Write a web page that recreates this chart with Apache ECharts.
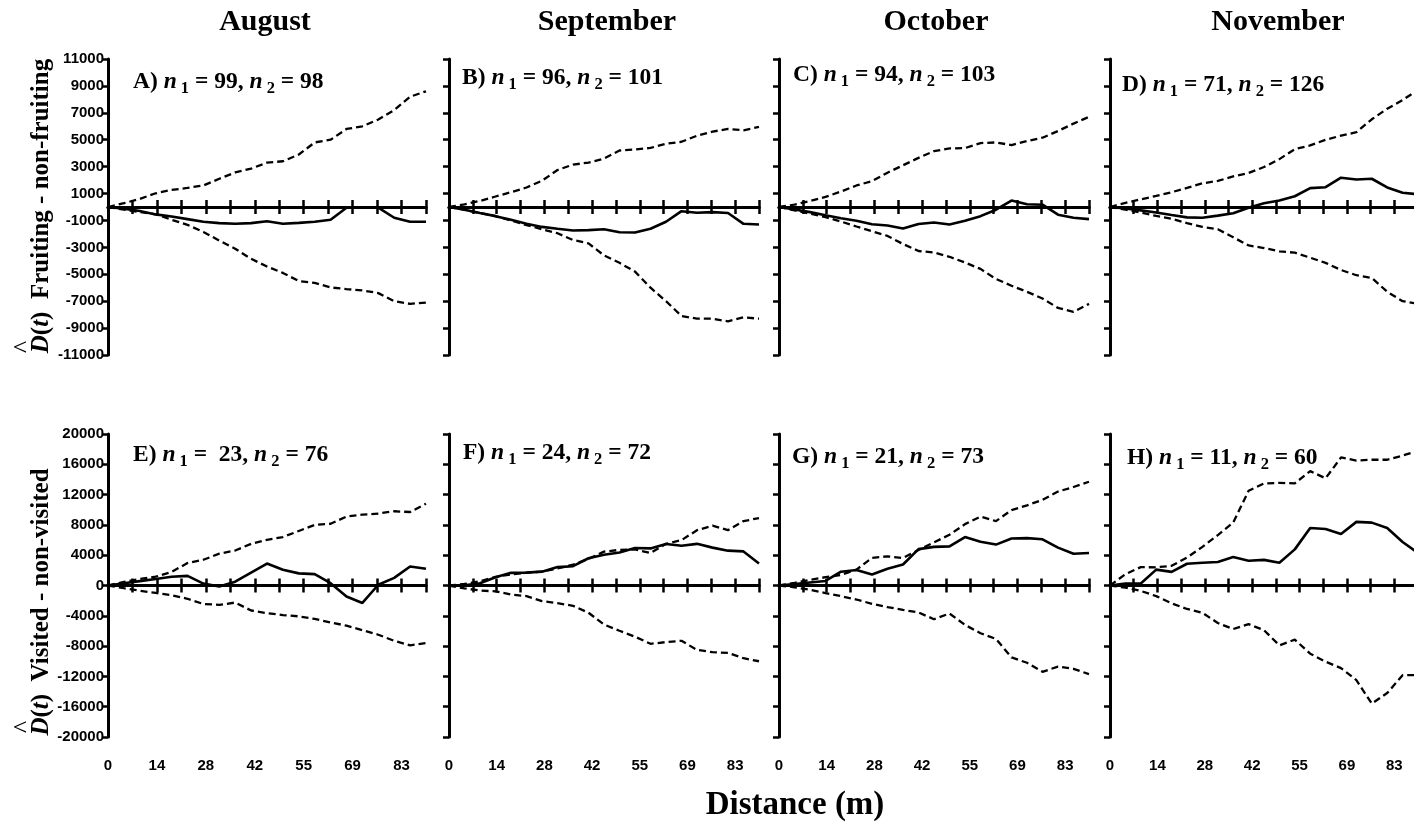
<!DOCTYPE html>
<html><head><meta charset="utf-8">
<script src="https://cdn.jsdelivr.net/npm/echarts@6/dist/echarts.min.js"></script>
<style>html,body{margin:0;padding:0;background:#fff}#c{width:1414px;height:832px}</style>
</head><body><div id="c"></div>
<script>
// ---------- data ----------
const distance = [0,4.5,9,13.5,18,22.5,27,31.5,36,40.5,45,49.5,54,58.5,63,67.5,72,76.5,81,85.5,90];
const xTickLabels = ['0','14','28','42','55','69','83'];
const months = ['August','September','October','November'];
const panelLetters = ['A','B','C','D','E','F','G','H'];
const n1 = ['99','96','94','71',' 23','24','21','11'];
const n2 = ['98','101','103','126','76','72','73','60'];
const rowTitles = ['Fruiting - non-fruiting','Visited - non-visited'];

// A) August, fruiting vs non-fruiting
const obsA = [0,-120,-300,-550,-700,-900,-1100,-1200,-1250,-1200,-1060,-1250,-1180,-1100,-950,-60,-50,-50,-800,-1100,-1100];
const upA  = [0,280,600,1020,1270,1420,1600,2100,2570,2850,3300,3400,3900,4800,5000,5800,6000,6500,7200,8200,8600];
const loA  = [0,-200,-380,-540,-950,-1330,-1850,-2500,-3100,-3850,-4420,-4900,-5500,-5640,-5980,-6100,-6200,-6400,-7000,-7200,-7100];
// B) September
const obsB = [0,-200,-450,-680,-950,-1240,-1480,-1620,-1750,-1720,-1650,-1880,-1900,-1620,-1100,-310,-430,-380,-450,-1250,-1300];
const upB  = [0,200,450,780,1100,1450,1950,2750,3150,3300,3600,4200,4280,4390,4700,4850,5300,5600,5800,5700,5950];
const loB  = [0,-200,-450,-680,-1000,-1350,-1650,-1950,-2450,-2700,-3600,-4150,-4800,-6000,-7000,-8100,-8300,-8300,-8500,-8200,-8300];
// C) October
const obsC = [0,-180,-380,-620,-840,-1020,-1280,-1380,-1600,-1260,-1150,-1300,-1030,-680,-200,480,200,170,-570,-800,-900];
const upC  = [0,170,450,750,1150,1600,1920,2550,3100,3650,4150,4350,4380,4750,4800,4600,4900,5150,5650,6200,6700];
const loC  = [0,-250,-500,-750,-1080,-1450,-1800,-2150,-2750,-3270,-3380,-3700,-4130,-4600,-5350,-5850,-6300,-6800,-7500,-7800,-7200];
// D) November
const obsD = [0,-110,-250,-410,-600,-770,-800,-640,-470,-60,280,490,800,1400,1470,2180,2040,2100,1450,1060,950];
const upD  = [0,300,570,820,1100,1420,1760,1940,2270,2530,2970,3560,4300,4580,5000,5300,5560,6520,7300,7950,8700];
const loD  = [0,-200,-420,-660,-880,-1200,-1480,-1650,-2250,-2860,-3050,-3300,-3390,-3770,-4150,-4680,-5070,-5270,-6300,-7000,-7200];
// E) August, visited vs non-visited
const obsE = [0,290,580,860,1160,1270,250,-130,500,1700,2900,2080,1600,1500,300,-1450,-2300,100,1000,2500,2200];
const upE  = [0,470,870,1160,1800,2960,3400,4200,4620,5500,6030,6400,7200,8000,8150,9100,9350,9500,9800,9700,10800];
const loE  = [0,-360,-690,-980,-1280,-1750,-2440,-2560,-2250,-3300,-3650,-3900,-4070,-4420,-4880,-5300,-5900,-6500,-7300,-7900,-7600];
// F) September
const obsF = [0,40,300,1100,1670,1700,1830,2430,2550,3600,4070,4360,4960,4900,5480,5250,5500,5000,4600,4500,2900];
const upF  = [0,200,570,1130,1460,1700,1840,2250,2750,3520,4470,4700,4760,4300,5500,5990,7300,7900,7300,8500,8900];
const loF  = [0,-380,-670,-770,-1180,-1400,-2060,-2330,-2680,-3600,-5160,-5980,-6760,-7700,-7470,-7300,-8500,-8800,-8900,-9600,-10000];
// G) October
const obsG = [0,200,400,600,1820,2040,1450,2200,2770,4800,5100,5160,6400,5770,5400,6200,6250,6100,5000,4200,4300];
const upG  = [0,350,730,1100,1400,2100,3650,3850,3620,4700,5700,6700,8100,9100,8500,9950,10580,11310,12400,13000,13700];
const loG  = [0,-230,-560,-1000,-1400,-1850,-2430,-2850,-3220,-3560,-4450,-3700,-5200,-6300,-7050,-9500,-10200,-11400,-10700,-11000,-11700];
// H) November
const obsH = [0,250,260,2100,1800,2870,3000,3100,3750,3270,3380,3000,4770,7600,7450,6800,8400,8300,7600,5750,4300];
const upH  = [0,1500,2420,2400,2600,3700,5100,6650,8300,12500,13480,13540,13480,15100,14150,16900,16500,16600,16600,17150,17800];
const loH  = [0,-280,-720,-1400,-2350,-3100,-3600,-4950,-5750,-5100,-5900,-7900,-7150,-9000,-10060,-10900,-12500,-15600,-14200,-11840,-11840];

const observed = [obsA,obsB,obsC,obsD,obsE,obsF,obsG,obsH];
const upper = [upA,upB,upC,upD,upE,upF,upG,upH];
const lower = [loA,loB,loC,loD,loE,loF,loG,loH];
const yRanges = [[-11000,11000,2000],[-20000,20000,4000]];

// ---------- layout ----------
const colLeft = [108,449,779,1110];
const colWidth = [318,310,310,308];
const rowTop = [59,434];
const rowHeight = [296,303];
const titleX = [265,607,936,1278];
const annX = [133,462,793,1122,133,463,792,1127];
const annY = [82,78,75,85,455,453,457,458];

const SERIF = '"Liberation Serif","Times New Roman",serif';
const SANS = '"Liberation Sans",Arial,sans-serif';
const XMAX = 90, XINT = 90/13;

const grids = [], xAxes = [], yAxes = [], series = [], graphics = [];
for (let g = 0; g < 8; g++) {
  const row = g < 4 ? 0 : 1, col = g % 4;
  grids.push({left: colLeft[col], top: rowTop[row], width: colWidth[col], height: rowHeight[row],
              outerBoundsMode: 'none', containLabel: false});
  const yr = yRanges[row];
  yAxes.push({gridIndex: g, type: 'value', min: yr[0], max: yr[1], interval: yr[2],
    axisLine: {show: true, onZero: false, lineStyle: {color: '#000', width: 3}},
    axisTick: {show: true, length: 6, lineStyle: {color: '#000', width: 2.5}},
    axisLabel: {show: col === 0, fontSize: 15, fontWeight: 'bold', fontFamily: SANS, color: '#000', margin: 4,
                formatter: v => String(v)},
    splitLine: {show: false}});
  const mainX = xAxes.length;
  ['bottom','top'].forEach(pos => {
    xAxes.push({gridIndex: g, type: 'value', min: 0, max: XMAX, interval: XINT, position: pos,
      axisLine: {show: true, onZero: true, onZeroAxisIndex: g, lineStyle: {color: '#000', width: 3}},
      axisTick: {show: true, length: 7, lineStyle: {color: '#000', width: 2.5}},
      axisLabel: {show: false}, splitLine: {show: false}});
  });
  if (row === 1) {
    xAxes.push({gridIndex: g, type: 'value', min: 0, max: XMAX, interval: XINT, position: 'bottom',
      axisLine: {show: false, onZero: false}, axisTick: {show: false}, splitLine: {show: false},
      axisLabel: {show: true, margin: 21, fontSize: 15, fontWeight: 'bold', fontFamily: SANS, color: '#000',
        showMaxLabel: false,
        formatter: v => { const i = Math.round(v / XINT); return (i % 2 === 0 && i / 2 < xTickLabels.length) ? xTickLabels[i / 2] : ''; }}});
  }
  const mk = (arr, dashed) => ({type: 'line', xAxisIndex: mainX, yAxisIndex: g, silent: true,
    symbol: 'none', showSymbol: false, animation: false, z: 3,
    data: distance.map((d, i) => [d, arr[i]]),
    lineStyle: {color: '#000', width: dashed ? 2.3 : 2.6, type: dashed ? [7, 4] : 'solid'}});
  series.push(mk(upper[g], true), mk(lower[g], true), mk(observed[g], false));

  // panel annotation
  graphics.push({type: 'text', x: annX[g], y: annY[g], silent: true,
    style: {text: `{b|${panelLetters[g]}) }{i|n}{s| 1}{b| = ${n1[g]}, }{i|n}{s| 2}{b| = ${n2[g]}}`,
      align: 'left', verticalAlign: 'middle',
      rich: {
        b: {fontFamily: SERIF, fontWeight: 'bold', fontSize: 23.5, fill: '#000', color: '#000'},
        i: {fontFamily: SERIF, fontWeight: 'bold', fontStyle: 'italic', fontSize: 23.5, fill: '#000', color: '#000'},
        s: {fontFamily: SERIF, fontWeight: 'bold', fontSize: 16.5, fill: '#000', color: '#000', padding: [14, 0, 0, 0]}
      }}});
}

// column titles
months.forEach((m, i) => graphics.push({type: 'text', x: titleX[i], y: 22, silent: true,
  style: {text: m, fontFamily: SERIF, fontWeight: 'bold', fontSize: 30, fill: '#000', align: 'center', verticalAlign: 'middle'}}));

// y titles (rotated) + hat
const yTitleY = [206, 602];
const hatY = [347, 727];
rowTitles.forEach((t, r) => {
  graphics.push({type: 'text', x: 42, y: yTitleY[r], rotation: Math.PI / 2, silent: true,
    style: {text: `{di|D}{n|(}{di|t}{n|)  ${t}}`, align: 'center', verticalAlign: 'middle',
      rich: {
        di: {fontFamily: SERIF, fontWeight: 'bold', fontStyle: 'italic', fontSize: 25, fill: '#000', color: '#000'},
        n: {fontFamily: SERIF, fontWeight: 'bold', fontSize: 25, fill: '#000', color: '#000'}
      }}});
  graphics.push({type: 'text', x: 24, y: hatY[r], rotation: Math.PI / 2, silent: true,
    style: {text: '^', fontFamily: SERIF, fontSize: 26, fill: '#000', align: 'center', verticalAlign: 'middle'}});
});

// x title
graphics.push({type: 'text', x: 795, y: 805, silent: true,
  style: {text: 'Distance (m)', fontFamily: SERIF, fontWeight: 'bold', fontSize: 33, fill: '#000', align: 'center', verticalAlign: 'middle'}});

const chart = echarts.init(document.getElementById('c'), null, {renderer: 'canvas'});
chart.setOption({
  animation: false,
  backgroundColor: '#fff',
  grid: grids, xAxis: xAxes, yAxis: yAxes, series: series,
  graphic: graphics
});
</script></body></html>
